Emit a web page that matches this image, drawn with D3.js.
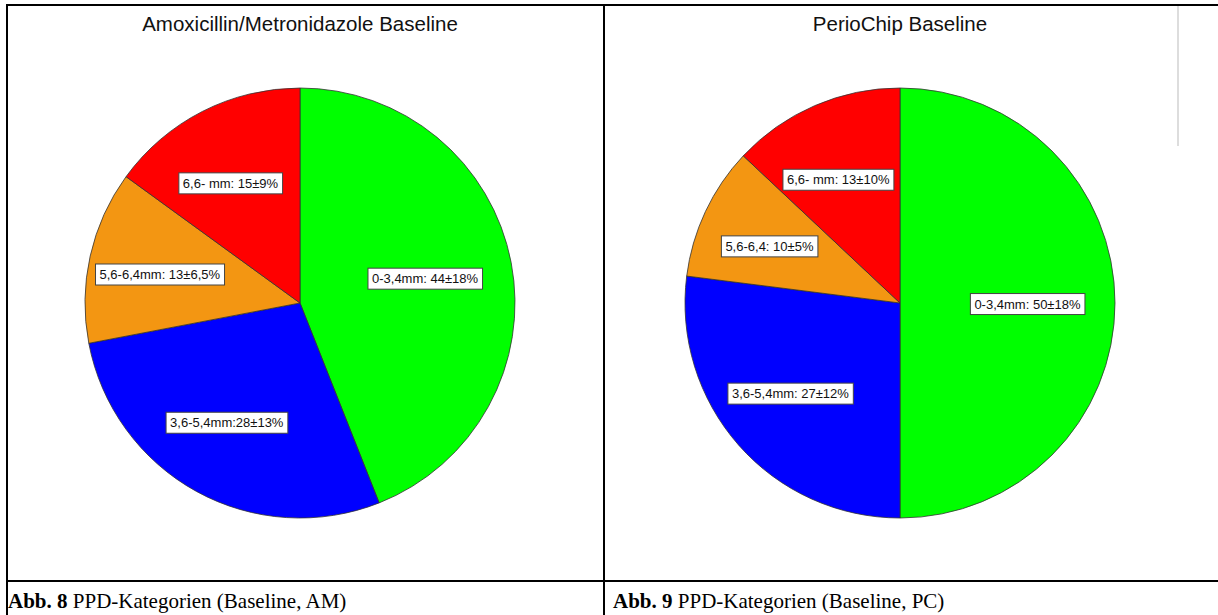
<!DOCTYPE html>
<html>
<head>
<meta charset="utf-8">
<script src="https://cdn.jsdelivr.net/npm/d3@7"></script>
<style>
  html, body { margin: 0; padding: 0; background: #fff; }
  svg { display: block; }
</style>
</head>
<body>
<svg id="chart" width="1218" height="615"></svg>
<script>
// data
const categories = ['0-3,4mm', '3,6-5,4mm', '5,6-6,4mm', '6,6- mm'];
const amValues = [44, 28, 13, 15];
const amLabels = ['0-3,4mm: 44±18%', '3,6-5,4mm:28±13%', '5,6-6,4mm: 13±6,5%', '6,6- mm: 15±9%'];
const pcValues = [50, 27, 10, 13];
const pcLabels = ['0-3,4mm: 50±18%', '3,6-5,4mm: 27±12%', '5,6-6,4: 10±5%', '6,6- mm: 13±10%'];
const titles = ['Amoxicillin/Metronidazole Baseline', 'PerioChip Baseline'];
const captionNum = ['Abb. 8', 'Abb. 9'];
const captionText = [' PPD-Kategorien (Baseline, AM)', ' PPD-Kategorien (Baseline, PC)'];

const colors = d3.scaleOrdinal()
  .domain(categories)
  .range(['#00ff00', '#0000ff', '#f39612', '#ff0000']);

const svg = d3.select('#chart');
const radius = 215;

const pie = d3.pie().value(d => d.value).sort(null);
const arc = d3.arc().innerRadius(0).outerRadius(radius);
const labelArc = d3.arc().innerRadius(radius * 0.63).outerRadius(radius * 0.63);

const panels = [
  { cx: 300, values: amValues, labels: amLabels },
  { cx: 900, values: pcValues, labels: pcLabels }
];

panels.forEach((p, k) => {
  const data = categories.map((c, i) => ({ name: c, value: p.values[i], label: p.labels[i] }));

  svg.append('text')
    .attr('x', p.cx)
    .attr('y', 31)
    .attr('text-anchor', 'middle')
    .style('font-family', 'Liberation Sans, Arial, sans-serif')
    .style('font-size', '20.5px')
    .attr('fill', '#111')
    .text(titles[k]);

  const g = svg.append('g').attr('transform', `translate(${ p.cx }, 303)`);

  g.selectAll('path')
    .data(pie(data))
    .enter()
    .append('path')
    .attr('d', arc)
    .attr('fill', d => colors(d.data.name))
    .attr('stroke', '#333')
    .attr('stroke-width', 0.8);

  const lab = g.selectAll('g.lab')
    .data(pie(data))
    .enter()
    .append('g')
    .attr('class', 'lab')
    .attr('transform', d => {
      const [x, y] = labelArc.centroid(d);
      return `translate(${ x - 8 }, ${ y + 1 })`;
    });

  lab.append('text')
    .attr('text-anchor', 'middle')
    .attr('dy', '0.35em')
    .style('font-family', 'Liberation Sans, Arial, sans-serif')
    .style('font-size', '13px')
    .attr('fill', '#111')
    .text(d => d.data.label);

  lab.each(function () {
    const b = d3.select(this).select('text').node().getBBox();
    d3.select(this).insert('rect', 'text')
      .attr('x', b.x - 4)
      .attr('y', b.y - 3)
      .attr('width', b.width + 8)
      .attr('height', b.height + 6)
      .attr('fill', '#fff')
      .attr('stroke', '#444')
      .attr('stroke-width', 1);
  });

  const cap = svg.append('text')
    .attr('x', k === 0 ? 8 : 613)
    .attr('y', 608)
    .style('font-family', 'Liberation Serif, Times New Roman, serif')
    .style('font-size', '21px')
    .attr('fill', '#000');
  cap.append('tspan').style('font-weight', 'bold').text(captionNum[k]);
  cap.append('tspan').text(captionText[k]);
});

// table frame
const frame = [
  [6, 5, 1218, 5],
  [7, 4, 7, 615],
  [604, 4, 604, 615],
  [6, 581, 1218, 581]
];
svg.selectAll('line.frame')
  .data(frame)
  .enter()
  .append('line')
  .attr('class', 'frame')
  .attr('x1', d => d[0]).attr('y1', d => d[1])
  .attr('x2', d => d[2]).attr('y2', d => d[3])
  .attr('stroke', '#000')
  .attr('stroke-width', 2);

// faint scan line at the right edge
svg.append('line')
  .attr('x1', 1178).attr('y1', 6).attr('x2', 1178).attr('y2', 146)
  .attr('stroke', '#bbb')
  .attr('stroke-width', 1);
</script>
</body>
</html>
